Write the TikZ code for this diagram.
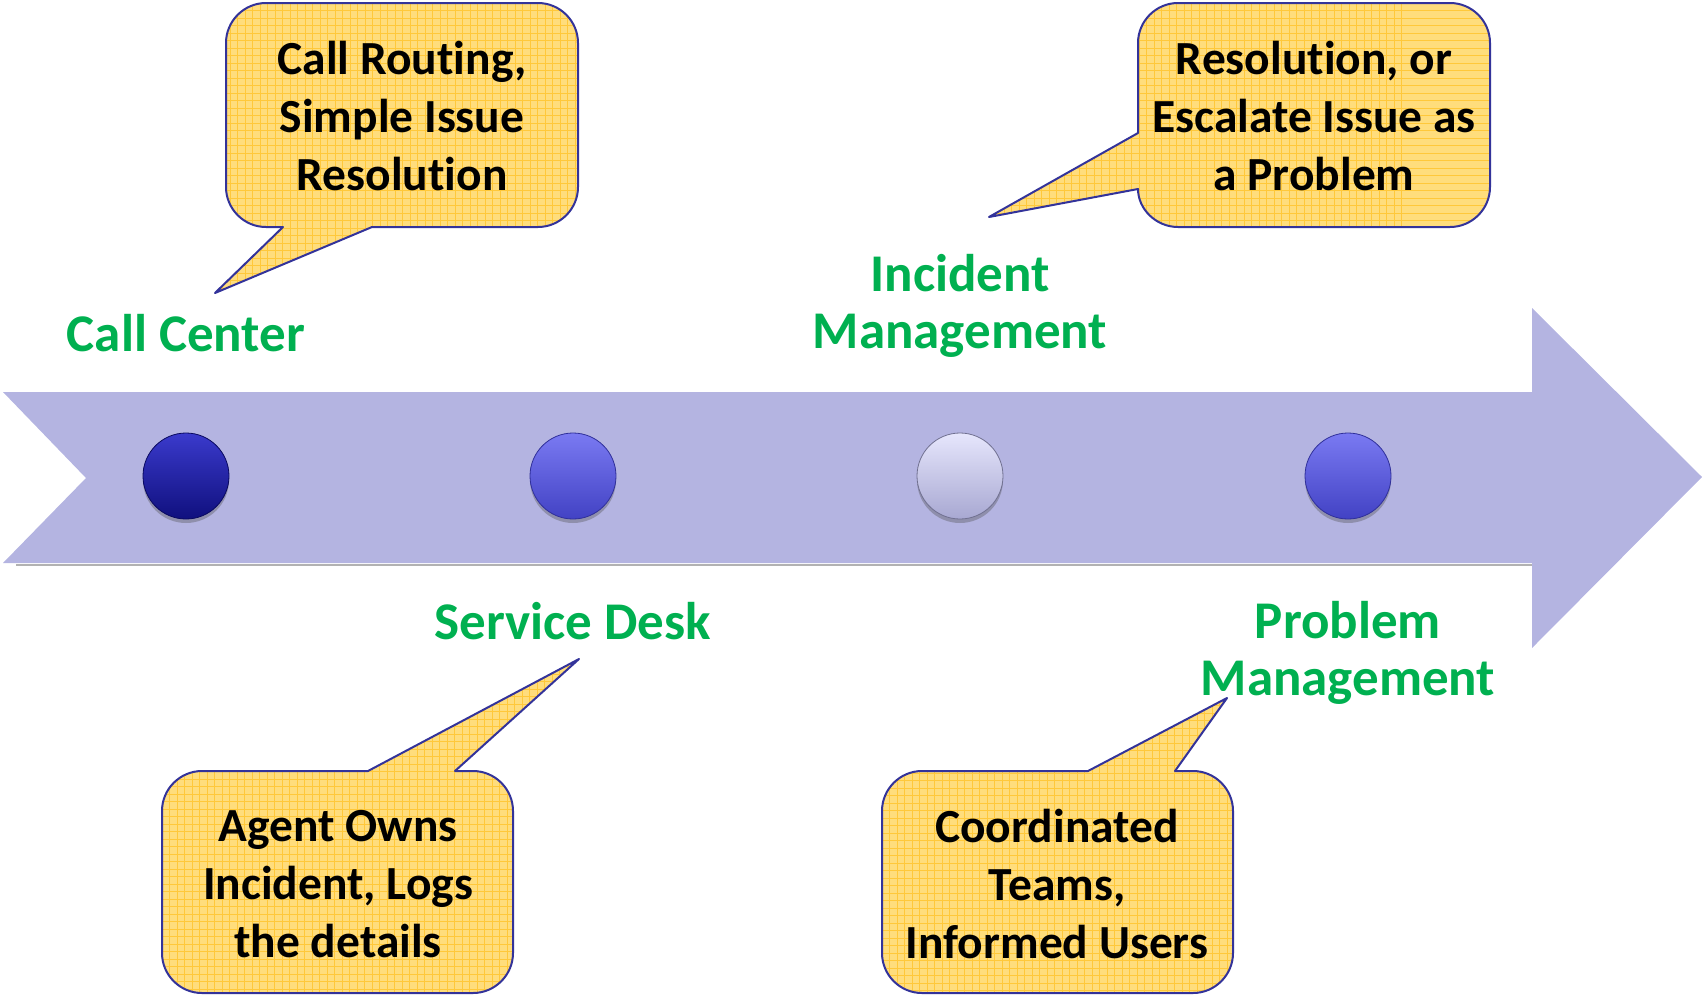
\documentclass[tikz,border=0pt]{standalone}
\usepackage{fontspec}
\setmainfont{Carlito}[Ligatures=NoCommon]
\usetikzlibrary{shadows}
\definecolor{bandc}{HTML}{B4B4E1}
\definecolor{greenc}{HTML}{00B050}
\definecolor{yelc}{HTML}{FFDD7C}
\definecolor{gridc}{HTML}{FFC83A}
\definecolor{edgec}{HTML}{33339A}
\definecolor{bAtop}{HTML}{3A3ACC}
\definecolor{bAmid}{HTML}{15159C}
\definecolor{bAbot}{HTML}{10107E}
\definecolor{bAedge}{HTML}{0A0A60}
\definecolor{bBtop}{HTML}{7A7AF2}
\definecolor{bBmid}{HTML}{5252DC}
\definecolor{bBbot}{HTML}{4242C4}
\definecolor{bBedge}{HTML}{30309A}
\definecolor{bCtop}{HTML}{E6E6FC}
\definecolor{bCmid}{HTML}{C6C6EE}
\definecolor{bCbot}{HTML}{A8A8D2}
\definecolor{bCedge}{HTML}{707090}
\tikzset{
  bandstyle/.style={fill=bandc},
  gridline/.style={gridc, line width=0.9pt},
  callout/.style={fill=yelc, draw=edgec, line width=2pt, line join=round,
    path picture={
      \foreach \i in {0,...,55}{
        \draw[gridline] ([xshift=\i*7.5pt]path picture bounding box.north west) -- ([xshift=\i*7.5pt]path picture bounding box.south west);
        \draw[gridline] ([yshift=-\i*7.5pt]path picture bounding box.north west) -- ([yshift=-\i*7.5pt]path picture bounding box.north east);
      }}},
  calltext/.style={align=center, inner sep=0pt, font=\fontsize{47.5}{57.6}\selectfont\bfseries, text=black},
  label/.style={align=center, inner sep=0pt, font=\fontsize{53}{57.6}\selectfont\bfseries, text=greenc},
  ballbase/.style={circle, minimum size=86pt, inner sep=0pt, line width=0.8pt,
    drop shadow={shadow xshift=0pt, shadow yshift=-4pt, opacity=0.35, fill=black!70}},
  balldark/.style={ballbase, draw=bAedge, top color=bAtop, middle color=bAmid, bottom color=bAbot},
  ballmid/.style={ballbase, draw=bBedge, top color=bBtop, middle color=bBmid, bottom color=bBbot},
  balllight/.style={ballbase, draw=bCedge, top color=bCtop, middle color=bCmid, bottom color=bCbot},
}
\begin{document}
\begin{tikzpicture}[x=1pt, y=-1pt]
\useasboundingbox (0,0) rectangle (1703,997);
% shadow line under band
\draw[black!30, line width=2.5pt] (16,565) -- (1532,565);
% band arrow
\fill[bandstyle] (3,392) -- (1532,392) -- (1532,308) -- (1702,477) -- (1532,648) -- (1532,563) -- (3,563) -- (86,478) -- cycle;

% balls
\node[balldark]  (b1) at (186,476) {};
\node[ballmid]   (b2) at (573,476) {};
\node[balllight] (b3) at (960,476) {};
\node[ballmid]   (b4) at (1348,476) {};

% green labels
\node[label] (l1) at (186,333) {Call Center};
\node[label] (l2) at (960,306) {Incident\\Management};
\node[label] (l3) at (573,621) {Service Desk};
\node[label] (l4) at (1348,653) {Problem\\Management};

% callout 1 (top left)
\path[callout] (266,3) -- (538,3) .. controls (560,3) and (578,21) .. (578,43) -- (578,187)
  .. controls (578,209) and (560,227) .. (538,227) -- (372,227) -- (215,293) -- (283,227) -- (266,227)
  .. controls (244,227) and (226,209) .. (226,187) -- (226,43) .. controls (226,21) and (244,3) .. (266,3) -- cycle;
\node[calltext] (t1) at (402,116) {Call Routing,\\Simple Issue\\Resolution};

% callout 2 (top right)
\path[callout] (1178,3) -- (1450,3) .. controls (1472,3) and (1490,21) .. (1490,43) -- (1490,187)
  .. controls (1490,209) and (1472,227) .. (1450,227) -- (1178,227)
  .. controls (1156,227) and (1138,209) .. (1138,189) -- (989,217) -- (1138,133) -- (1138,43)
  .. controls (1138,21) and (1156,3) .. (1178,3) -- cycle;
\node[calltext] (t2) at (1314,116) {Resolution, or\\Escalate Issue as\\a Problem};

% callout 3 (bottom left)
\path[callout] (202,771) -- (368,771) -- (579,659) -- (455,771) -- (473,771)
  .. controls (495,771) and (513,789) .. (513,811) -- (513,953) .. controls (513,975) and (495,993) .. (473,993)
  -- (202,993) .. controls (180,993) and (162,975) .. (162,953) -- (162,811)
  .. controls (162,789) and (180,771) .. (202,771) -- cycle;
\node[calltext] (t3) at (338,884) {Agent Owns\\Incident, Logs\\the details};

% callout 4 (bottom right)
\path[callout] (922,771) -- (1088,771) -- (1227,698) -- (1175,771) -- (1193,771)
  .. controls (1215,771) and (1233,789) .. (1233,811) -- (1233,953) .. controls (1233,975) and (1215,993) .. (1193,993)
  -- (922,993) .. controls (900,993) and (882,975) .. (882,953) -- (882,811)
  .. controls (882,789) and (900,771) .. (922,771) -- cycle;
\node[calltext] (t4) at (1057,884) {Coordinated\\Teams,\\Informed Users};
\end{tikzpicture}
\end{document}
